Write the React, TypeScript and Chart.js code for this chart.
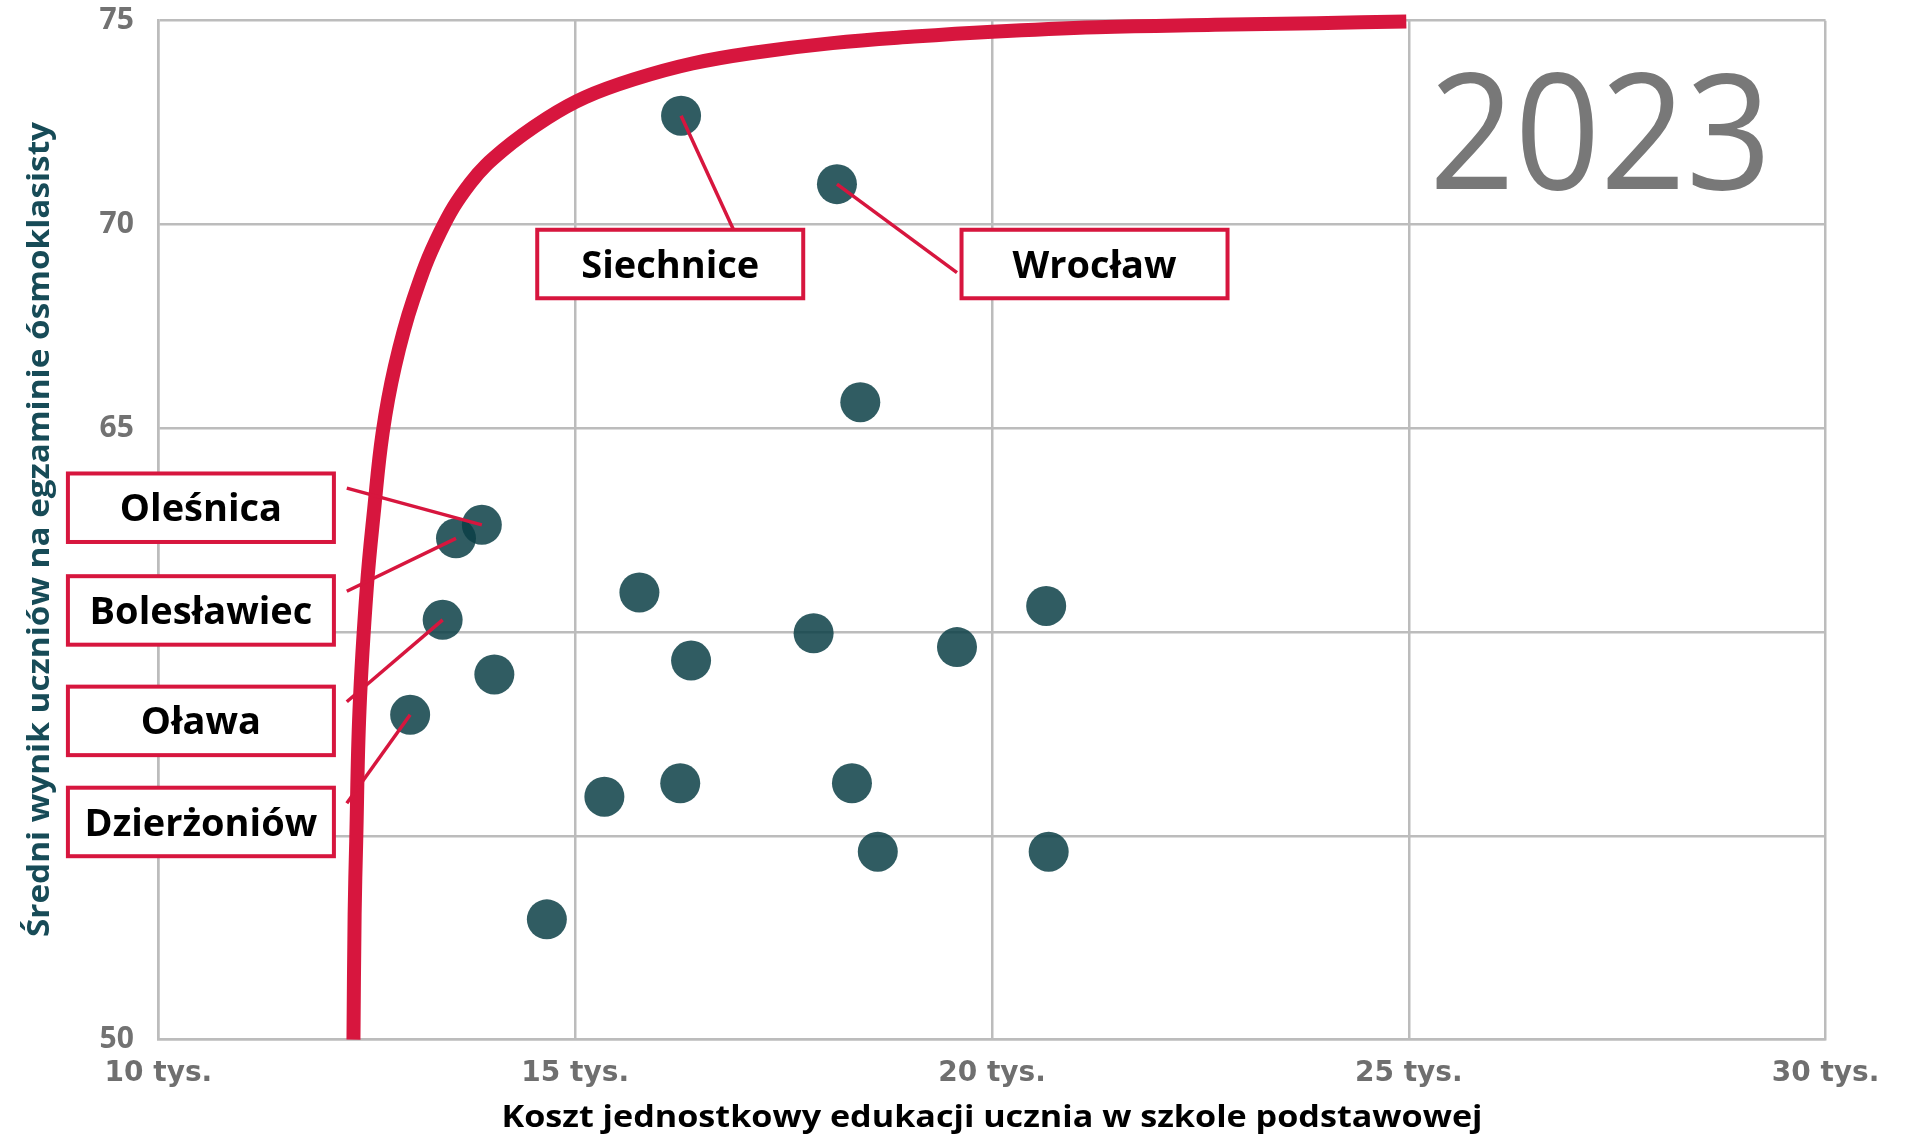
import React, { useEffect, useRef } from 'react';
import { Chart, registerables } from 'chart.js';

Chart.register(...registerables);

// ---- data (cost in thousands PLN, score in %) ----
const gmina = ['Siechnice', 'Wrocław', '', 'Oleśnica', 'Bolesławiec', '', '', 'Oława', '', '', '', '', 'Dzierżoniów', '', '', '', '', '', ''];
const costX = [16.27, 18.14, 18.42, 13.88, 13.57, 15.77, 20.65, 13.41, 17.86, 19.58, 16.39, 14.03, 13.02, 16.26, 15.35, 18.32, 18.63, 20.68, 14.66];
const scoreY = [72.67, 70.99, 65.64, 62.63, 62.3, 60.97, 60.64, 60.3, 59.97, 59.63, 59.3, 58.96, 57.97, 56.29, 55.96, 56.29, 54.61, 54.61, 52.95];

const frontierX = [12.34, 12.354, 12.373, 12.412, 12.5, 12.588, 12.69, 12.836, 13.056, 13.377, 13.743, 14.137, 14.664, 15.117, 15.702, 16.404, 17.164, 18.085, 19.064, 20.0, 21.257, 22.675, 23.889, 24.97];
const frontierY = [50.0, 53.08, 54.87, 58.07, 61.09, 63.01, 64.89, 66.51, 68.15, 69.8, 71.02, 71.83, 72.61, 73.12, 73.56, 73.95, 74.22, 74.45, 74.61, 74.73, 74.84, 74.9, 74.94, 74.98];

const xTickValues = [10, 15, 20, 25, 30];
const xTickLabels = ['10 tys.', '15 tys.', '20 tys.', '25 tys.', '30 tys.'];
const yTickValues = [50, 55, 60, 65, 70, 75];
const yTickLabels = ['50', '55', '60', '65', '70', '75'];

// callout anchors in data units: box centre and leader-line start
const calloutNames = ['Siechnice', 'Wrocław', 'Oleśnica', 'Bolesławiec', 'Oława', 'Dzierżoniów'];
const calloutBoxX = [16.14, 21.23, 10.51, 10.51, 10.51, 10.51];
const calloutBoxY = [69.03, 69.03, 63.05, 60.53, 57.82, 55.34];
const calloutLineX = [16.91, 19.58, 12.26, 12.26, 12.26, 12.26];
const calloutLineY = [69.82, 68.82, 63.53, 61.0, 58.29, 55.8];

const yearLabel = '2023';
const xTitle = 'Koszt jednostkowy edukacji ucznia w szkole podstawowej';
const yTitle = 'Średni wynik uczniów na egzaminie ósmoklasisty';

const RED = '#d7163e';
const TEAL = 'rgba(12,63,70,0.85)';

const overlayPlugin = {
  id: 'overlay',
  afterDatasetsDraw(chart: any) {
    const { ctx, scales } = chart;
    const xs = scales.x;
    const ys = scales.y;
    ctx.save();
    // leader lines
    calloutNames.forEach((name, i) => {
      const idx = gmina.indexOf(name);
      const px = xs.getPixelForValue(costX[idx]);
      const py = ys.getPixelForValue(scoreY[idx]);
      const fx = xs.getPixelForValue(calloutLineX[i]);
      const fy = ys.getPixelForValue(calloutLineY[i]);
      ctx.beginPath();
      ctx.moveTo(fx, fy);
      ctx.lineTo(px, py);
      ctx.strokeStyle = RED;
      ctx.lineWidth = 3.5;
      ctx.stroke();
    });
    // boxes
    const bw = 266;
    const bh = 68.5;
    calloutNames.forEach((name, i) => {
      const cx = xs.getPixelForValue(calloutBoxX[i]);
      const cy = ys.getPixelForValue(calloutBoxY[i]);
      ctx.fillStyle = '#ffffff';
      ctx.fillRect(cx - bw / 2, cy - bh / 2, bw, bh);
      ctx.strokeStyle = RED;
      ctx.lineWidth = 4;
      ctx.strokeRect(cx - bw / 2, cy - bh / 2, bw, bh);
      ctx.fillStyle = '#000000';
      ctx.font = 'bold 38px "Open Sans"';
      ctx.textAlign = 'center';
      ctx.textBaseline = 'alphabetic';
      ctx.fillText(name, cx, cy + 0.357 * 38);
    });
    ctx.restore();
  },
  afterDraw(chart: any) {
    const { ctx, chartArea } = chart;
    ctx.save();
    // year
    ctx.font = '162px "Open Sans"';
    ctx.fillStyle = '#787878';
    ctx.textAlign = 'left';
    ctx.textBaseline = 'alphabetic';
    const m = ctx.measureText(yearLabel);
    const vis = m.actualBoundingBoxLeft + m.actualBoundingBoxRight;
    const sx = 328 / vis;
    ctx.save();
    ctx.translate(1435.6, 189);
    ctx.scale(sx, 1);
    ctx.fillText(yearLabel, m.actualBoundingBoxLeft, 0);
    ctx.restore();

    // x title
    ctx.font = 'bold 31px "Open Sans"';
    ctx.fillStyle = '#000000';
    ctx.textAlign = 'center';
    const mx = ctx.measureText(xTitle);
    const sxx = 981 / mx.width;
    ctx.save();
    ctx.translate((chartArea.left + chartArea.right) / 2, 1127);
    ctx.scale(sxx, 1);
    ctx.fillText(xTitle, 0, 0);
    ctx.restore();

    // y title
    ctx.font = 'bold 30px "Open Sans"';
    ctx.fillStyle = '#174b57';
    ctx.textAlign = 'center';
    const my = ctx.measureText(yTitle);
    const syy = 815 / my.width;
    ctx.save();
    ctx.translate(48.8, 529.5);
    ctx.rotate(-Math.PI / 2);
    ctx.scale(syy, 1);
    ctx.fillText(yTitle, 0, 0);
    ctx.restore();
    ctx.restore();
  },
};

export default function App() {
  const ref = useRef<HTMLCanvasElement | null>(null);
  useEffect(() => {
    document.body.style.margin = '0';
    const canvas = ref.current;
    if (!canvas) return;
    const chart = new Chart(canvas, {
      type: 'scatter',
      data: {
        datasets: [
          {
            type: 'line',
            label: 'frontier',
            data: frontierX.map((x, i) => ({ x, y: frontierY[i] })),
            borderColor: RED,
            borderWidth: 14,
            pointRadius: 0,
            tension: 0.4,
            fill: false,
            clip: false,
            order: 2,
          } as any,
          {
            type: 'scatter',
            label: 'gminy',
            data: costX.map((x, i) => ({ x, y: scoreY[i] })),
            backgroundColor: TEAL,
            borderWidth: 0,
            pointRadius: 20,
            pointHoverRadius: 20,
            order: 1,
          },
        ],
      },
      options: {
        responsive: false,
        animation: false,
        events: [],
        devicePixelRatio: 1,
        layout: { padding: { top: 20.7, right: 85.4, bottom: 0, left: 0 } },
        plugins: { legend: { display: false }, tooltip: { enabled: false } },
        scales: {
          x: {
            type: 'linear',
            min: 10,
            max: 30,
            afterBuildTicks(scale: any) {
              scale.ticks = xTickValues.map((v) => ({ value: v }));
            },
            afterFit(scale: any) {
              scale.height = 105.4;
              scale.paddingLeft = 0;
              scale.paddingRight = 0;
            },
            grid: { color: '#bcbcbc', lineWidth: 2.5, drawTicks: false },
            border: { color: '#bcbcbc', width: 2.5 },
            ticks: {
              padding: 17,
              maxRotation: 0,
              autoSkip: false,
              color: '#6f6f6f',
              font: { family: '"DejaVu Sans"', weight: 'bold', size: 28 },
              callback: (v: any) => xTickLabels[xTickValues.indexOf(Number(v))] ?? '',
            },
          },
          y: {
            type: 'linear',
            min: 50,
            max: 75,
            afterBuildTicks(scale: any) {
              scale.ticks = yTickValues.map((v) => ({ value: v }));
            },
            afterFit(scale: any) {
              scale.width = 158.4;
              scale.paddingTop = 0;
              scale.paddingBottom = 0;
            },
            grid: { color: '#bcbcbc', lineWidth: 2.5, drawTicks: false },
            border: { color: '#bcbcbc', width: 2.5 },
            ticks: {
              padding: 24.5,
              autoSkip: false,
              color: '#727272',
              font: { family: '"Open Sans"', weight: 'bold', size: 30 },
              callback: (v: any) => yTickLabels[yTickValues.indexOf(Number(v))] ?? '',
            },
          },
        },
      },
      plugins: [overlayPlugin],
    });
    return () => chart.destroy();
  }, []);
  return (
    <div style={{ width: 1911, height: 1145 }}>
      <canvas ref={ref} width={1911} height={1145} style={{ display: 'block' }} />
    </div>
  );
}
